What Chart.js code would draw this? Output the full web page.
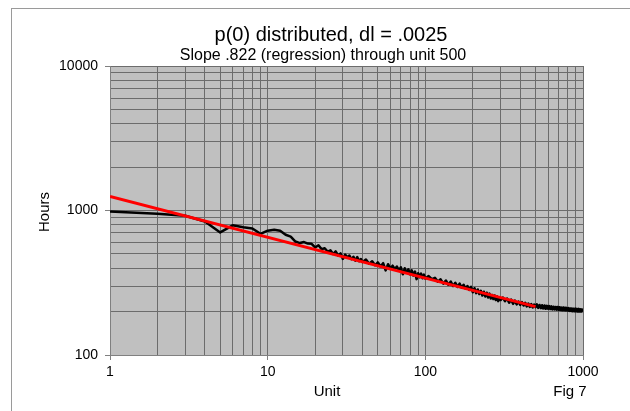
<!DOCTYPE html>
<html lang="en">
<head>
<meta charset="UTF-8">
<title>p(0) distributed, dl = .0025</title>
<script src="https://cdn.jsdelivr.net/npm/chart.js"></script>
<style>
    body { margin: 0; background: #fff; }
    #frame { position: absolute; left: 11px; top: 8px; width: 700px; height: 500px;
             border-left: 1px solid #9a9a9a; border-top: 1px solid #9a9a9a; }
    #wrap { position: absolute; left: 0; top: 0; }
</style>
</head>
<body>
<div id="frame"></div>
<div id="wrap"><canvas id="myChart" width="630" height="411"></canvas></div>
<script>
// unit number vs hours
const units = [
    1, 2, 3, 4, 5, 6, 7, 8, 9, 10, 11, 12, 13, 14, 15, 16, 17, 18, 19, 20,
    21, 22, 23, 24, 25, 26, 27, 28, 29, 30, 31, 32, 33, 34, 35, 36, 37, 38, 39, 40,
    42, 44, 46, 48, 50, 52, 54, 56, 58, 60, 62, 64, 66, 68, 70, 72, 74, 76, 78, 80,
    82, 84, 86, 88, 90, 92, 94, 96, 98, 100,
    105, 110, 115, 120, 125, 130, 135, 140, 145, 150, 155, 160, 165, 170, 175, 180,
    185, 190, 195, 200, 205, 210, 215, 220, 225, 230, 235, 240, 245, 250, 255, 260,
    265, 270, 275, 280, 285, 290, 295, 300,
    310, 320, 330, 340, 350, 360, 370, 380, 390, 400, 410, 420, 430, 440, 450, 460,
    470, 480, 490, 500, 510, 520, 530, 540, 550, 560, 570, 580, 590, 600, 610, 620,
    630, 640, 650, 660, 670, 680, 690, 700, 710, 720, 730, 740, 750, 760, 770, 780,
    790, 800, 810, 820, 830, 840, 850, 860, 870, 880, 890, 900, 910, 920, 930, 940,
    950, 960, 970, 980, 990, 1000
];
const hours = [
    985, 950, 920, 840, 705, 790, 765, 750, 690, 725, 735, 725, 680, 660, 610, 595, 605, 590, 588, 555,
    575, 540, 548, 520, 530, 500, 522, 488, 505, 462, 495, 475, 488, 460, 478, 450, 476, 445, 462, 440,
    458, 428, 445, 418, 438, 410, 432, 385, 425, 398, 415, 392, 410, 385, 405, 362, 398, 372, 392, 362,
    385, 355, 378, 335, 368, 345, 366, 340, 360, 338,
    352, 335, 342, 322, 334, 312, 328, 306, 322, 300, 316, 296, 312, 292, 306, 288,
    300, 282, 296, 272, 290, 268, 284, 264, 278, 258, 274, 254, 270, 250, 266, 246,
    260, 244, 258, 240, 254, 236, 250, 240,
    250, 236, 246, 230, 242, 226, 238, 224, 234, 222, 232, 220, 230, 217, 227, 215,
    225, 213, 223, 214, 224, 212, 222, 211, 221, 210, 220, 209, 219, 209, 218, 208,
    217, 207, 216, 207, 215, 206, 215, 205, 214, 205, 213, 204, 213, 204, 212, 203,
    211, 203, 211, 202, 210, 202, 210, 201, 209, 201, 209, 201, 208, 200, 208, 200,
    207, 200, 207, 200, 206, 203
];
// regression line end points
const fitUnits = [1, 500];
const fitHours = [1250, 216];

// gridlines and labels
const xTicks = [1, 2, 3, 4, 5, 6, 7, 8, 9, 10, 20, 30, 40, 50, 60, 70, 80, 90,
    100, 200, 300, 400, 500, 600, 700, 800, 900, 1000];
const yTicks = [100, 200, 300, 400, 500, 600, 700, 800, 900, 1000, 2000, 3000, 4000,
    5000, 6000, 7000, 8000, 9000, 10000];
const xLabels = [1, 10, 100, 1000];
const yLabels = [100, 1000, 10000];

const FONT = '"Liberation Sans", Arial, sans-serif';

// grey plot area + the texts around it
const plotBg = {
    id: 'plotBg',
    beforeDraw(chart) {
        const a = chart.chartArea, c = chart.ctx;
        c.save();
        c.fillStyle = '#c0c0c0';
        c.fillRect(a.left, a.top, a.right - a.left, a.bottom - a.top);
        c.restore();
    },
    afterDraw(chart) {
        const c = chart.ctx;
        c.save();
        c.fillStyle = '#000';
        c.textAlign = 'center';
        c.textBaseline = 'middle';
        c.font = '20px ' + FONT;
        c.fillText('p(0) distributed, dl = .0025', 331, 35);
        c.font = '16px ' + FONT;
        c.fillText('Slope .822 (regression) through unit 500', 323, 56);
        c.font = '15px ' + FONT;
        c.fillText('Unit', 327, 392);
        c.fillText('Fig 7', 570, 392);
        c.translate(45, 212);
        c.rotate(-Math.PI / 2);
        c.fillText('Hours', 0, 0);
        c.restore();
    }
};

const ctx = document.getElementById('myChart').getContext('2d');
new Chart(ctx, {
    type: 'line',
    data: {
        datasets: [{
            data: fitUnits.map((u, i) => ({ x: u, y: fitHours[i] })),
            borderColor: '#ff0000',
            borderWidth: 3,
            pointRadius: 0
        }, {
            data: units.map((u, i) => ({ x: u, y: hours[i] })),
            borderColor: '#000000',
            borderWidth: 2.5,
            borderJoinStyle: 'round',
            pointRadius: 0,
            tension: 0
        }]
    },
    options: {
        responsive: false,
        animation: false,
        devicePixelRatio: 1,
        layout: { padding: { left: 30, right: 47, top: 66, bottom: 0 } },
        plugins: { legend: { display: false }, tooltip: { enabled: false } },
        scales: {
            x: {
                type: 'logarithmic',
                min: 1,
                max: 1000,
                afterBuildTicks: s => { s.ticks = xTicks.map(v => ({ value: v })); },
                afterFit: s => { s.height = 56; },
                ticks: {
                    autoSkip: false,
                    maxRotation: 0,
                    padding: 4,
                    color: '#000',
                    font: { family: FONT, size: 14 },
                    callback: v => xLabels.includes(v) ? String(v) : ''
                },
                grid: {
                    color: '#6c6c6c',
                    lineWidth: 1,
                    tickLength: 5,
                    tickColor: c => (c.tick && xLabels.includes(c.tick.value)) ? '#808080' : 'rgba(0,0,0,0)'
                },
                border: { color: '#808080', width: 1 }
            },
            y: {
                type: 'logarithmic',
                min: 100,
                max: 10000,
                afterBuildTicks: s => { s.ticks = yTicks.map(v => ({ value: v })); },
                afterFit: s => { s.width = 80; },
                ticks: {
                    autoSkip: false,
                    padding: 7,
                    color: '#000',
                    font: { family: FONT, size: 14 },
                    callback: v => yLabels.includes(v) ? String(v) : ''
                },
                grid: {
                    color: '#6c6c6c',
                    lineWidth: 1,
                    tickLength: 5,
                    tickColor: c => (c.tick && yLabels.includes(c.tick.value)) ? '#808080' : 'rgba(0,0,0,0)'
                },
                border: { color: '#808080', width: 1 }
            }
        }
    },
    plugins: [plotBg]
});
</script>
</body>
</html>
